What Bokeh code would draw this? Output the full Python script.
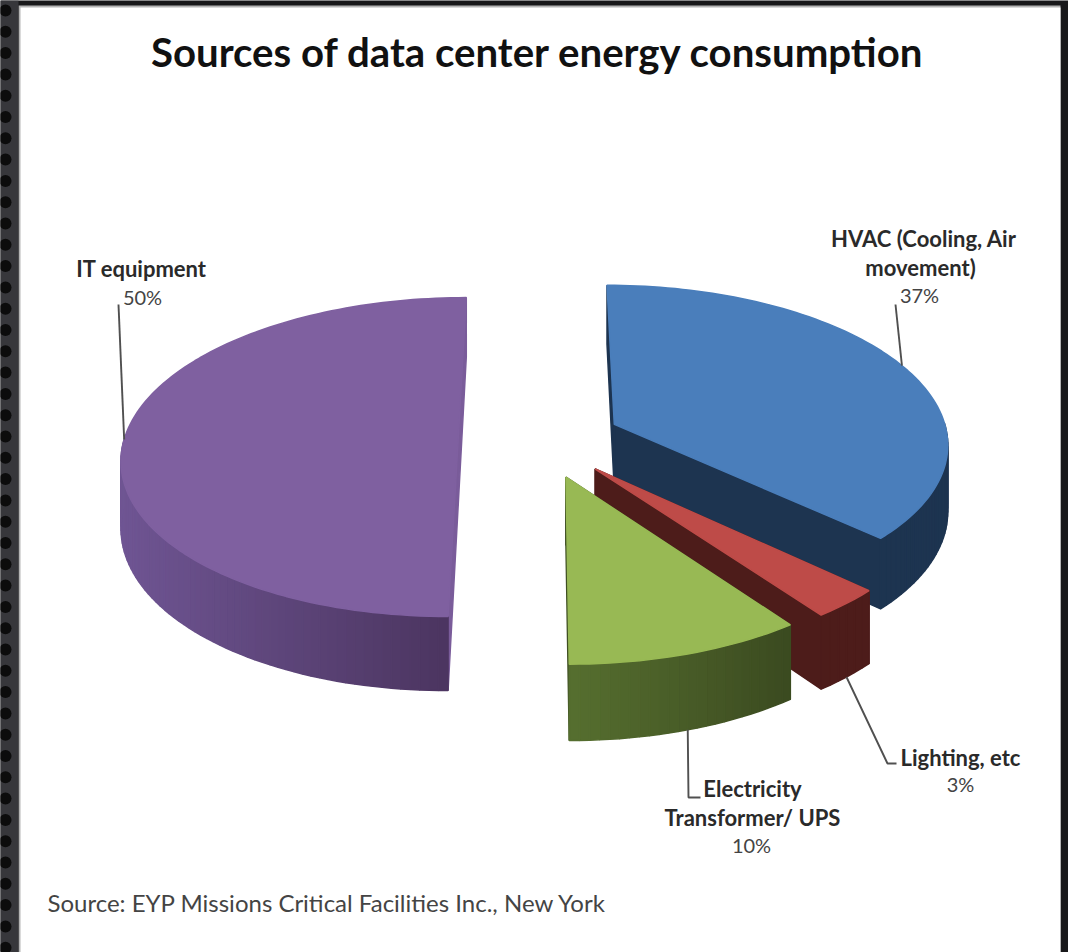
import numpy as np
from bokeh.plotting import figure
from bokeh.models import Range1d, ColumnDataSource
from bokeh.core.properties import value
from bokeh.embed import file_html
from bokeh.resources import INLINE

# ---- data ----
categories = ["HVAC (Cooling, Air movement)", "Lighting, etc", "Electricity Transformer/ UPS", "IT equipment"]
shares = [37, 3, 10, 50]
top_colors = ["#4a7ebb", "#be4b48", "#98b954", "#7f60a0"]
side_left = ["#1d3450", "#4d1c1a", "#566f2f", "#6f5593"]
side_right = ["#1d3450", "#4d1c1a", "#3b4a20", "#49335d"]
cut_colors = ["#1d3450", "#4d1c1a", "#3f4f22", "#7a5c9a"]
title_text = "Sources of data center energy consumption"
source_text = "Source: EYP Missions Critical  Facilities  Inc., New York"
label_lines = [["HVAC (Cooling,  Air", "movement)", "37%"],
               ["Lighting, etc", "3%"],
               ["Electricity", "Transformer/ UPS", "10%"],
               ["IT equipment", "50%"]]

# ---- layout ----
W, H = 1068, 952
OX, OY = 0, 0
X0, Y0, A, B, K, DEPTH, EXPLODE = 539.5, 439.0, 334.0, 157.5, 0.11, 66.0, 0.245
label_cx = [[926, 920, 919], [960, 960], [752, 752, 751], [141, 142]]
label_cy = [[238, 267, 294.5], [757, 783.5], [788, 817, 844.5], [268, 296.5]]
leader_tail = [[(895, 304)], [(887, 763), (896, 763)], [(688, 797), (700, 797)], [(118, 304)]]
leader_bottom = [False, True, True, False]
FONT = "Lato"


def project(u, v, depth=0.0):
    w = 1 - K * v
    return X0 + A * u / w, Y0 + (B * v + depth) / w


def hex_mix(c1, c2, t):
    a = [int(c1[i:i + 2], 16) for i in (1, 3, 5)]
    b = [int(c2[i:i + 2], 16) for i in (1, 3, 5)]
    return "#%02x%02x%02x" % tuple(int(round(p + (q - p) * t)) for p, q in zip(a, b))


p = figure(width=W, height=H, output_backend="svg", toolbar_location=None,
           x_range=Range1d(OX, OX + W), y_range=Range1d(OY + H, OY),
           min_border=0, outline_line_color=None, background_fill_color="#18181a",
           border_fill_color="#18181a")
p.axis.visible = False
p.grid.visible = False

# white sheet on the dark dotted page
p.quad(left=[18], right=[1060], top=[5], bottom=[952], fill_color="#b4b4b4", line_color=None)
p.quad(left=[20], right=[1060], top=[7], bottom=[952], fill_color="white", line_color=None)
p.quad(left=[0], right=[18], top=[0], bottom=[952], fill_color="#37373b", line_color=None)
dot_y = np.arange(10, 950, 21.3)
p.scatter(x=np.full_like(dot_y, 5), y=dot_y, size=12, marker="circle", fill_color="#0c0c0c", line_color=None)

fractions = np.cumsum([0] + shares) / sum(shares) * 2 * np.pi
groups = []
anchors = []
for i in range(len(shares)):
    t0, t1 = fractions[i], fractions[i + 1]
    mid = (t0 + t1) / 2
    cu, cv = EXPLODE * np.sin(mid), -EXPLODE * np.cos(mid)
    th = np.linspace(t0, t1, max(6, int((t1 - t0) * 40)))
    ru, rv = cu + np.sin(th), cv - np.cos(th)
    tx, ty = project(ru, rv)
    bx, by = project(ru, rv, DEPTH)
    ax, ay = project(cu, cv)
    ax2, ay2 = project(cu, cv, DEPTH)
    g = []
    g.append(([ax, tx[0], bx[0], ax2], [ay, ty[0], by[0], ay2], cut_colors[i]))
    g.append(([ax, tx[-1], bx[-1], ax2], [ay, ty[-1], by[-1], ay2], cut_colors[i]))
    xmin, xmax = tx.min(), tx.max()
    for j in range(len(th) - 1):
        if np.cos((th[j] + th[j + 1]) / 2) > 0:   # back half of the rim is hidden
            continue
        f = ((tx[j] + tx[j + 1]) / 2 - xmin) / max(xmax - xmin, 1)
        col = hex_mix(side_left[i], side_right[i], f)
        g.append(([tx[j], tx[j + 1], bx[j + 1], bx[j]], [ty[j], ty[j + 1], by[j + 1], by[j]], col))
    g.append(([ax] + list(tx), [ay] + list(ty), top_colors[i]))
    groups.append(g)
    anchors.append(project(cu + np.sin(mid), cv - np.cos(mid), DEPTH if leader_bottom[i] else 0.0))

for i in [0, 3, 1, 2]:
    g = groups[i]
    src = ColumnDataSource(dict(xs=[list(map(float, q[0])) for q in g],
                                ys=[list(map(float, q[1])) for q in g],
                                c=[q[2] for q in g]))
    p.patches("xs", "ys", source=src, fill_color="c", line_color="c", line_width=1.5)

# leaders
for i, tail in enumerate(leader_tail):
    xs = [float(anchors[i][0])] + [q[0] for q in tail]
    ys = [float(anchors[i][1])] + [q[1] for q in tail]
    p.line(xs, ys, line_color="#505050", line_width=1.9)

# labels
for i, lines in enumerate(label_lines):
    for j, s in enumerate(lines):
        is_pct = s.endswith("%")
        p.text([label_cx[i][j]], [label_cy[i][j]], text=[s], text_align="center", text_baseline="middle",
               text_font=value(FONT), text_font_size="20px" if is_pct else "22px",
               text_font_style="normal" if is_pct else "bold",
               text_color="#444444" if is_pct else "#2a2a2a")

p.text([537.5], [51], text=[title_text], text_align="center", text_baseline="middle",
       text_font=value(FONT), text_font_size="40.2px", text_font_style="bold", text_color="#111111")
p.text([47], [902], text=[source_text], text_align="left", text_baseline="middle",
       text_font=value(FONT), text_font_size="24px", text_color="#444444")

open("out.html", "w").write(file_html(p, INLINE))
